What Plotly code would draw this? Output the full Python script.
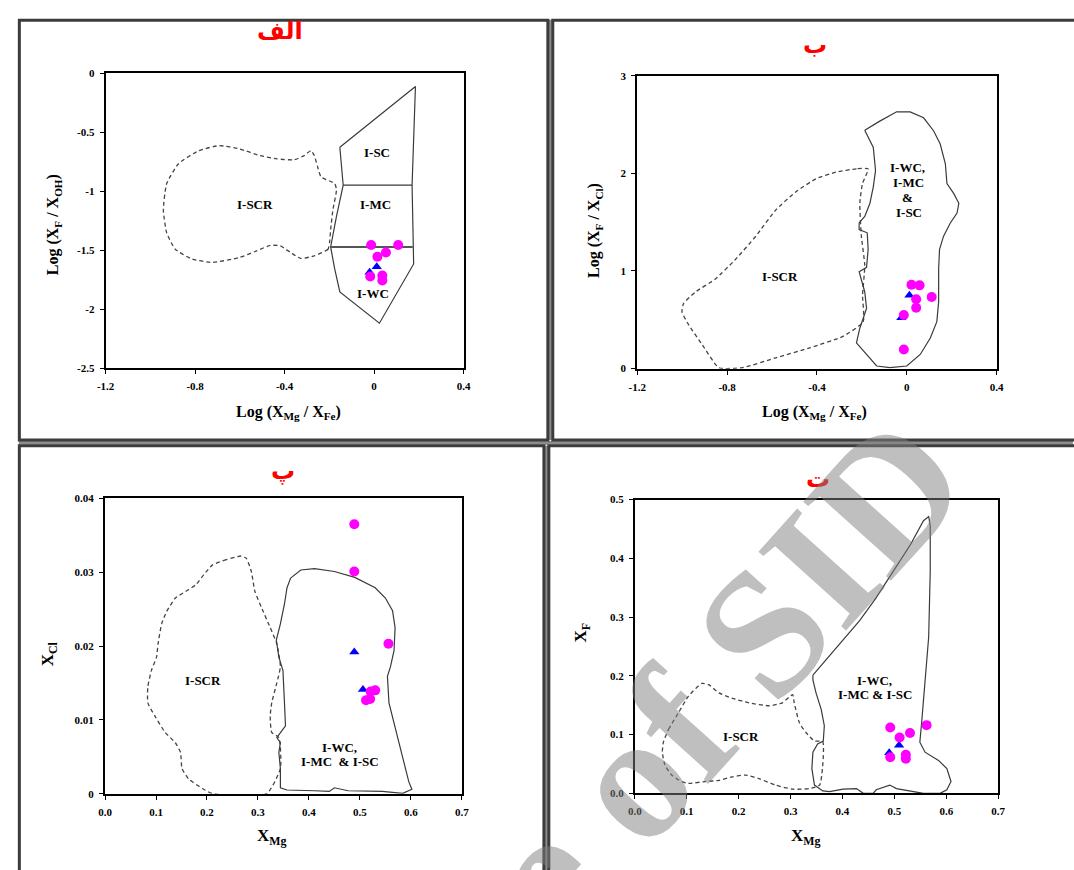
import plotly.graph_objects as go

W, H = 1074, 870

# ---------------- data ----------------
# Panel الف : Log(XMg/XFe) vs Log(XF/XOH)
a_circ_x = [-0.013, 0.108, 0.053, 0.015, -0.017, 0.037, 0.037]
a_circ_y = [-1.455, -1.455, -1.519, -1.555, -1.722, -1.714, -1.756]
a_tri_x = [0.012, -0.020]
a_tri_y = [-1.639, -1.686]
a_field_x = [-0.153, 0.185, 0.170, 0.173, 0.177, 0.024, -0.153, -0.176, -0.194, -0.168, -0.138, -0.153]
a_field_y = [-0.627, -0.111, -0.948, -1.472, -1.616, -2.118, -1.853, -1.658, -1.472, -1.212, -0.948, -0.627]
a_div1_x = [-0.138, 0.170]
a_div1_y = [-0.948, -0.948]
a_div2_x = [-0.194, 0.173]
a_div2_y = [-1.472, -1.472]
a_scr_x = [-0.199, -0.206, -0.267, -0.328, -0.373, -0.419, -0.464, -0.525, -0.601, -0.722, -0.813,
           -0.889, -0.927, -0.942, -0.927, -0.874, -0.783, -0.692, -0.601, -0.510, -0.434, -0.358,
           -0.312, -0.282, -0.267, -0.252, -0.237, -0.176, -0.168, -0.184, -0.194, -0.199]
a_scr_y = [-1.435, -1.491, -1.547, -1.569, -1.519, -1.463, -1.458, -1.505, -1.561, -1.603, -1.575,
           -1.491, -1.352, -1.157, -0.934, -0.766, -0.655, -0.613, -0.641, -0.697, -0.725, -0.733,
           -0.697, -0.655, -0.697, -0.794, -0.878, -0.934, -0.989, -1.157, -1.324, -1.435]
a_xticks = [-1.2, -0.8, -0.4, 0, 0.4]
a_xtext = ["-1.2", "-0.8", "-0.4", "0", "0.4"]
a_yticks = [0, -0.5, -1, -1.5, -2, -2.5]
a_ytext = ["0", "-0.5", "-1", "-1.5", "-2", "-2.5"]

# Panel ب : Log(XMg/XFe) vs Log(XF/XCl)
b_circ_x = [0.021, 0.057, 0.111, 0.042, 0.042, -0.013, -0.013]
b_circ_y = [0.859, 0.853, 0.734, 0.711, 0.623, 0.549, 0.196]
b_tri_x = [0.012, -0.024]
b_tri_y = [0.752, 0.522]
b_field_x = [-0.187, -0.120, -0.045, 0.015, 0.075, 0.120, 0.149, 0.172, 0.179, 0.209, 0.232, 0.224,
             0.194, 0.164, 0.146, 0.142, 0.142, 0.134, 0.105, 0.060, 0.000, -0.075, -0.134, -0.179,
             -0.224, -0.209, -0.179, -0.187, -0.212, -0.179, -0.172, -0.176, -0.212, -0.212, -0.187,
             -0.164, -0.149, -0.139, -0.149, -0.187]
b_field_y = [2.441, 2.535, 2.630, 2.630, 2.569, 2.434, 2.300, 2.098, 1.896, 1.795, 1.694, 1.593,
             1.492, 1.357, 1.222, 1.020, 0.684, 0.481, 0.313, 0.145, 0.027, 0.010, 0.027, 0.145,
             0.263, 0.414, 0.616, 0.785, 0.993, 1.037, 1.222, 1.391, 1.424, 1.492, 1.559,
             1.694, 1.862, 2.030, 2.266, 2.441]
b_scr_x = [-0.172, -0.224, -0.314, -0.403, -0.493, -0.583, -0.672, -0.762, -0.852, -0.941, -0.994,
           -1.001, -0.971, -0.911, -0.837, -0.732, -0.583, -0.433, -0.284, -0.194, -0.197, -0.187,
           -0.202, -0.209, -0.197, -0.172]
b_scr_y = [2.047, 2.047, 2.013, 1.946, 1.812, 1.626, 1.357, 1.121, 0.919, 0.785, 0.667,
           0.582, 0.448, 0.246, 0.010, 0.010, 0.111, 0.212, 0.330, 0.481, 0.751, 1.054,
           1.357, 1.694, 1.896, 2.047]
b_xticks = [-1.2, -0.8, -0.4, 0, 0.4]
b_xtext = ["-1.2", "-0.8", "-0.4", "0", "0.4"]
b_yticks = [0, 1, 2, 3]
b_ytext = ["0", "1", "2", "3"]

# Panel پ : XMg vs XCl
c_circ_x = [0.489, 0.489, 0.556, 0.530, 0.521, 0.512, 0.520]
c_circ_y = [0.0365, 0.0301, 0.0203, 0.0140, 0.01385, 0.01265, 0.01283]
c_tri_x = [0.489, 0.506]
c_tri_y = [0.0192, 0.0141]
c_field_x = [0.364, 0.384, 0.411, 0.450, 0.490, 0.530, 0.550, 0.564, 0.569, 0.567, 0.560, 0.554,
             0.557, 0.570, 0.584, 0.596, 0.602, 0.584, 0.544, 0.477, 0.450, 0.440, 0.411, 0.384,
             0.357, 0.344, 0.344, 0.341, 0.344, 0.337, 0.354, 0.352, 0.349, 0.341, 0.336, 0.344,
             0.352, 0.357, 0.364]
c_field_y = [0.0292, 0.0303, 0.0305, 0.0301, 0.0293, 0.0279, 0.0265, 0.0248, 0.0225, 0.0194, 0.0172, 0.0159,
             0.0123, 0.0087, 0.0052, 0.0016, 0.0006, 0.00004, 0.0003, 0.0004, 0.0008, 0.0003, 0.0004, 0.0005,
             0.0005, 0.0008, 0.0034, 0.0056, 0.0069, 0.0076, 0.0092, 0.0123, 0.0167, 0.0185, 0.0208, 0.0230,
             0.0257, 0.0279, 0.0292]
c_scr_x = [0.267, 0.238, 0.211, 0.194, 0.178, 0.158, 0.138, 0.121, 0.111, 0.104, 0.101, 0.091,
           0.084, 0.084, 0.098, 0.118, 0.138, 0.148, 0.151, 0.164, 0.191, 0.211, 0.317, 0.344,
           0.341, 0.327, 0.324, 0.327, 0.337, 0.344, 0.337, 0.324, 0.307, 0.294, 0.287, 0.277, 0.267]
c_scr_y = [0.0322, 0.0317, 0.0310, 0.0297, 0.0283, 0.0274, 0.0265, 0.0247, 0.0230, 0.0203, 0.0185, 0.0167,
           0.0145, 0.0123, 0.0105, 0.0083, 0.0069, 0.0056, 0.0034, 0.0020, 0.0007, 0.0, 0.0, 0.0034,
           0.0076, 0.0083, 0.0105, 0.0123, 0.0150, 0.0172, 0.0203, 0.0225, 0.0252, 0.0274, 0.0301, 0.0319, 0.0322]
c_xticks = [0.0, 0.1, 0.2, 0.3, 0.4, 0.5, 0.6, 0.7]
c_xtext = ["0.0", "0.1", "0.2", "0.3", "0.4", "0.5", "0.6", "0.7"]
c_yticks = [0, 0.01, 0.02, 0.03, 0.04]
c_ytext = ["0", "0.01", "0.02", "0.03", "0.04"]

# Panel ت : XMg vs XF
d_circ_x = [0.492, 0.510, 0.530, 0.562, 0.492, 0.522, 0.522]
d_circ_y = [0.112, 0.095, 0.1025, 0.116, 0.0615, 0.0655, 0.0588]
d_tri_x = [0.509, 0.490]
d_tri_y = [0.082, 0.069]
d_field_x = [0.343, 0.362, 0.394, 0.433, 0.465, 0.498, 0.530, 0.556, 0.566, 0.569, 0.569, 0.566,
             0.559, 0.553, 0.549, 0.559, 0.585, 0.601, 0.609, 0.601, 0.588, 0.556, 0.504, 0.491,
             0.465, 0.459, 0.440, 0.427, 0.401, 0.375, 0.362, 0.346, 0.341, 0.343, 0.352, 0.363,
             0.365, 0.359, 0.349, 0.343, 0.343]
d_field_y = [0.201, 0.221, 0.254, 0.294, 0.333, 0.378, 0.422, 0.464, 0.471, 0.456, 0.378, 0.266,
             0.182, 0.126, 0.087, 0.070, 0.056, 0.042, 0.020, 0.006, 0.0, 0.0, 0.008, 0.014,
             0.006, 0.0, 0.0, 0.008, 0.007, 0.003, 0.004, 0.014, 0.042, 0.070, 0.084, 0.089,
             0.115, 0.143, 0.171, 0.193, 0.201]
d_scr_x = [0.055, 0.065, 0.084, 0.103, 0.129, 0.142, 0.162, 0.187, 0.220, 0.259, 0.284, 0.304,
           0.307, 0.317, 0.330, 0.346, 0.362, 0.356, 0.336, 0.304, 0.271, 0.239, 0.213, 0.187,
           0.162, 0.136, 0.103, 0.090, 0.071, 0.058, 0.053, 0.055]
d_scr_y = [0.087, 0.109, 0.137, 0.165, 0.187, 0.185, 0.171, 0.162, 0.154, 0.149, 0.154, 0.168,
           0.154, 0.120, 0.103, 0.089, 0.088, 0.014, 0.008, 0.007, 0.014, 0.025, 0.031, 0.028,
           0.022, 0.020, 0.017, 0.020, 0.031, 0.048, 0.070, 0.087]
d_xticks = [0.0, 0.1, 0.2, 0.3, 0.4, 0.5, 0.6, 0.7]
d_xtext = ["0.0", "0.1", "0.2", "0.3", "0.4", "0.5", "0.6", "0.7"]
d_yticks = [0.0, 0.1, 0.2, 0.3, 0.4, 0.5]
d_ytext = ["0.0", "0.1", "0.2", "0.3", "0.4", "0.5"]

panel_titles = ["الف", "ب", "پ", "ت"]

# ---------------- helpers ----------------
def px(x):
    return x / W

def py(y):
    return 1 - y / H

SERIF = "Liberation Serif"
LINE_COL = "#3a3a3a"
MAG = "#ff00ff"
BLUE = "#0000ff"

fig = go.Figure()

panels = [
    ("x", "y", a_scr_x, a_scr_y, a_field_x, a_field_y, a_tri_x, a_tri_y, a_circ_x, a_circ_y),
    ("x2", "y2", b_scr_x, b_scr_y, b_field_x, b_field_y, b_tri_x, b_tri_y, b_circ_x, b_circ_y),
    ("x3", "y3", c_scr_x, c_scr_y, c_field_x, c_field_y, c_tri_x, c_tri_y, c_circ_x, c_circ_y),
    ("x4", "y4", d_scr_x, d_scr_y, d_field_x, d_field_y, d_tri_x, d_tri_y, d_circ_x, d_circ_y),
]

for xa, ya, sx, sy, fx, fy, tx, ty, cx, cy in panels:
    fig.add_trace(go.Scatter(x=sx, y=sy, xaxis=xa, yaxis=ya, mode="lines",
                             line=dict(color="#444444", width=1.3, dash="4px,3px", shape="spline", smoothing=0.5),
                             hoverinfo="skip", showlegend=False, cliponaxis=False))
    fig.add_trace(go.Scatter(x=fx, y=fy, xaxis=xa, yaxis=ya, mode="lines",
                             line=dict(color=LINE_COL, width=1.2),
                             hoverinfo="skip", showlegend=False, cliponaxis=False))
    if xa == "x":
        fig.add_trace(go.Scatter(x=a_div1_x, y=a_div1_y, xaxis=xa, yaxis=ya, mode="lines",
                                 line=dict(color=LINE_COL, width=1.2), showlegend=False, hoverinfo="skip"))
        fig.add_trace(go.Scatter(x=a_div2_x, y=a_div2_y, xaxis=xa, yaxis=ya, mode="lines",
                                 line=dict(color="#555555", width=2.2), showlegend=False, hoverinfo="skip"))
    fig.add_trace(go.Scatter(x=tx, y=ty, xaxis=xa, yaxis=ya, mode="markers",
                             marker=dict(symbol="triangle-up", size=9, color=BLUE),
                             showlegend=False, cliponaxis=False))
    fig.add_trace(go.Scatter(x=cx, y=cy, xaxis=xa, yaxis=ya, mode="markers",
                             marker=dict(symbol="circle", size=10, color=MAG),
                             showlegend=False, cliponaxis=False))

tickfont = dict(family=SERIF, size=11, color="black", weight="bold")

def axis(domain, rng, tv, tt, anchor):
    return dict(domain=domain, range=rng, tickvals=tv, ticktext=tt, anchor=anchor,
                showline=True, linecolor="black", linewidth=2, mirror=True,
                ticks="outside", ticklen=4, tickwidth=1, tickcolor="black",
                showgrid=False, zeroline=False, tickfont=tickfont, ticklabelstandoff=3)

dom = {
    1: ([px(98.1), px(461.4)], [py(367.3), py(68.3)]),
    2: ([px(637.8), px(1002.5)], [py(367.7), py(70.7)]),
    3: ([px(97.5), px(459.7)], [py(798.7), py(499.3)]),
    4: ([px(635.3), px(1004.2)], [py(798.3), py(500.5)]),
}

fig.update_layout(
    xaxis=axis(dom[1][0], [-1.2, 0.4], a_xticks, a_xtext, "y"),
    yaxis=axis(dom[1][1], [-2.5, 0], a_yticks, a_ytext, "x"),
    xaxis2=axis(dom[2][0], [-1.2, 0.4], b_xticks, b_xtext, "y2"),
    yaxis2=axis(dom[2][1], [0, 3], b_yticks, b_ytext, "x2"),
    xaxis3=axis(dom[3][0], [0, 0.7], c_xticks, c_xtext, "y3"),
    yaxis3=axis(dom[3][1], [0, 0.04], c_yticks, c_ytext, "x3"),
    xaxis4=axis(dom[4][0], [0, 0.7], d_xticks, d_xtext, "y4"),
    yaxis4=axis(dom[4][1], [0, 0.5], d_yticks, d_ytext, "x4"),
)

ann = []

def label(text, x, y, xref, yref, size=13):
    ann.append(dict(text=text, x=x, y=y, xref=xref, yref=yref, showarrow=False,
                    font=dict(family=SERIF, size=size, color="black", weight="bold"),
                    xanchor="center", yanchor="middle"))

# region labels
label("I-SC", 0.014, -0.674, "x", "y")
label("I-MC", 0.006, -1.109, "x", "y")
label("I-SCR", -0.532, -1.115, "x", "y")
label("I-WC", -0.006, -1.867, "x", "y")
label("I-WC,", 0.004, 2.064, "x2", "y2")
label("I-MC", 0.010, 1.906, "x2", "y2")
label("&", 0.004, 1.751, "x2", "y2")
label("I-SC", 0.010, 1.599, "x2", "y2")
label("I-SCR", -0.565, 0.943, "x2", "y2")
label("I-SCR", 0.192, 0.0153, "x3", "y3")
label("I-WC,", 0.460, 0.0063, "x3", "y3")
label("I-MC&nbsp;&nbsp;&amp; I-SC", 0.460, 0.0043, "x3", "y3")
label("I-WC,", 0.461, 0.192, "x4", "y4")
label("I-MC &amp; I-SC", 0.4625, 0.169, "x4", "y4")
label("I-SCR", 0.205, 0.0967, "x4", "y4")

# axis titles
def atitle(text, x, y, angle=0, size=16):
    ann.append(dict(text=text, x=px(x), y=py(y), xref="paper", yref="paper", showarrow=False,
                    textangle=angle, xanchor="center", yanchor="middle",
                    font=dict(family=SERIF, size=size, color="black", weight="bold")))

atitle("Log (X<sub>Mg</sub> / X<sub>Fe</sub>)", 284, 412)
atitle("Log (X<sub>F</sub> / X<sub>OH</sub>)", 46, 222, -90)
atitle("Log (X<sub>Mg</sub> / X<sub>Fe</sub>)", 818, 412)
atitle("Log (X<sub>F</sub> / X<sub>Cl</sub>)", 595, 228, -90)
atitle("X<sub>Mg</sub>", 267, 843, 0, 17)
atitle("X<sub>Cl</sub>", 41, 657, -90, 17)
atitle("X<sub>Mg</sub>", 809, 843, 0, 17)
atitle("X<sub>F</sub>", 582, 635, -90, 17)

# panel titles (Persian letters)
for t, (x, y) in zip(panel_titles, [(275, 25), (818, 40), (278, 472), (821, 480)]):
    ann.append(dict(text=t, x=px(x), y=py(y), xref="paper", yref="paper", showarrow=False,
                    xanchor="center", yanchor="middle",
                    font=dict(family="DejaVu Sans", size=24, color="#ff0000", weight="bold")))

# watermark
ann.append(dict(text="Archive of SID", x=px(547), y=py(878), xref="paper", yref="paper",
                showarrow=False, textangle=-48, xanchor="center", yanchor="middle",
                font=dict(family=SERIF, size=180, color="rgba(128,128,128,0.5)", weight="bold")))

# panel frames
shapes = []
def frame(x0, y0, x1, y1):
    shapes.append(dict(type="rect", xref="paper", yref="paper",
                       x0=px(x0), y0=py(y0), x1=px(x1), y1=py(y1),
                       line=dict(color="#3c3c3c", width=3), layer="above"))
def gap(x0, y0, x1, y1):
    shapes.append(dict(type="rect", xref="paper", yref="paper",
                       x0=px(x0), y0=py(y0), x1=px(x1), y1=py(y1),
                       line=dict(width=0), fillcolor="#8c8c8c", layer="below"))

gap(548, 14, 551, 440)
gap(544, 446, 548, 880)
gap(10, 441, 1080, 445)
frame(10.5, 14.5, 547, 440)
frame(552, 14.5, 1085, 440)
frame(10.5, 446, 543, 880)
frame(548, 446, 1085, 880)

fig.update_layout(width=W, height=H, margin=dict(l=0, r=0, t=0, b=0),
                  paper_bgcolor="white", plot_bgcolor="white",
                  annotations=ann, shapes=shapes, showlegend=False)

fig.write_html("out.html", config={"displayModeBar": False},
               post_script="document.body.style.margin='0px';document.body.style.padding='0px';"
                           "document.body.style.overflow='hidden';")
